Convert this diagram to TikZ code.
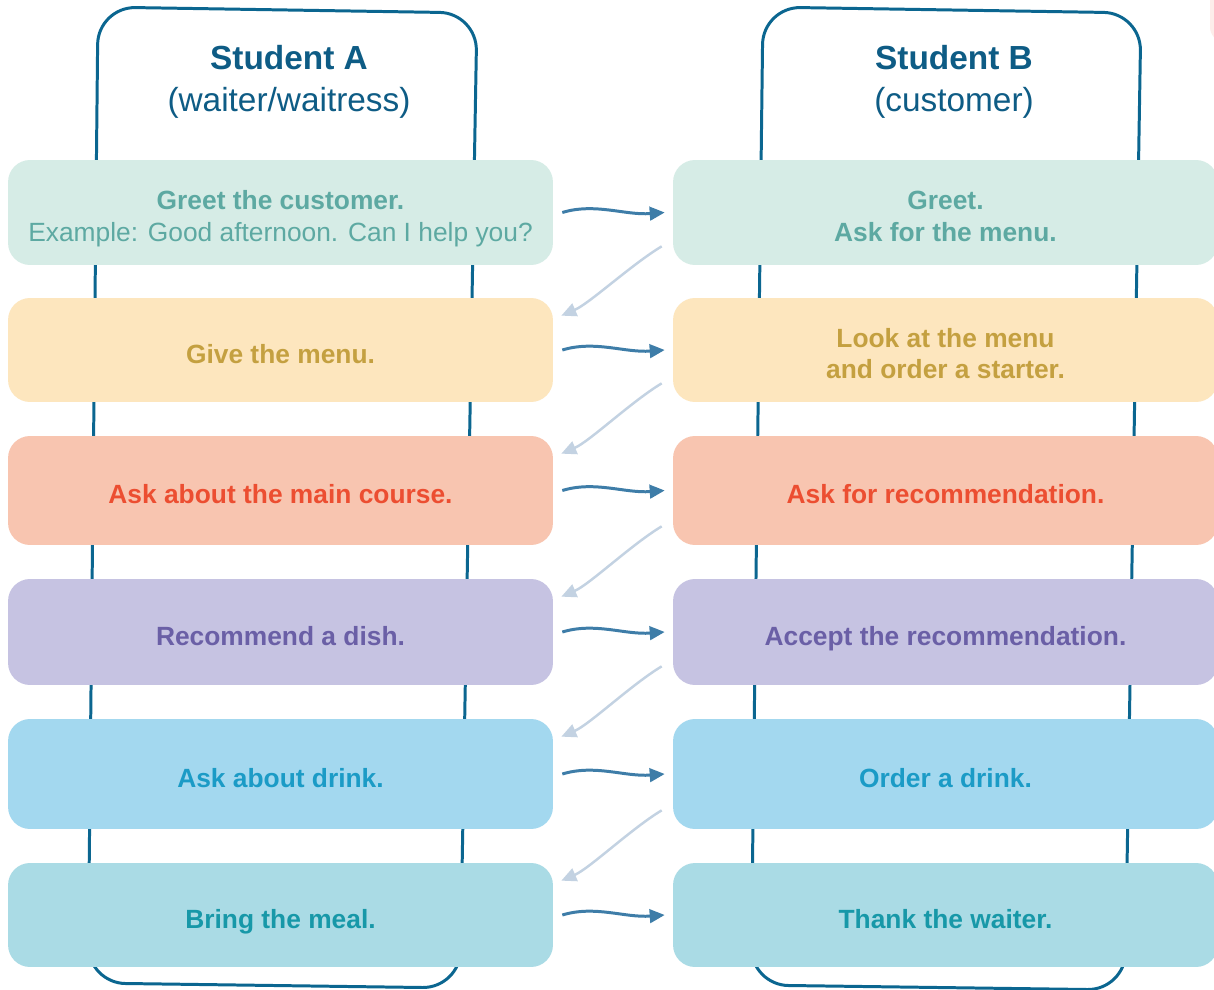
\documentclass[tikz,border=0pt]{standalone}
\usepackage{fontspec}
\setmainfont{Liberation Sans}
\usetikzlibrary{arrows.meta}

\definecolor{frameblue}{HTML}{0B6690}
\definecolor{titleblue}{HTML}{0E5C85}
\definecolor{fwdblue}{HTML}{3E7DA8}
\definecolor{backblue}{HTML}{C3D2E2}
\definecolor{blush}{HTML}{FDEDEA}
\definecolor{greetbg}{HTML}{D6ECE6}  \definecolor{greetfg}{HTML}{5DA9A2}
\definecolor{menubg}{HTML}{FDE6BE}   \definecolor{menufg}{HTML}{C4A040}
\definecolor{mainbg}{HTML}{F8C5B0}   \definecolor{mainfg}{HTML}{EC4E31}
\definecolor{dishbg}{HTML}{C6C3E2}   \definecolor{dishfg}{HTML}{6A5FA6}
\definecolor{drinkbg}{HTML}{A3D8EF}  \definecolor{drinkfg}{HTML}{1B9BC6}
\definecolor{mealbg}{HTML}{AADBE5}   \definecolor{mealfg}{HTML}{1798A8}

\tikzset{
  box/.style={rounded corners=0.44cm, minimum width=10.9cm, minimum height=2.1cm,
    align=center, inner sep=0pt, font=\fontsize{15}{18.1}\selectfont\bfseries,
    text height=15.2pt, text depth=0pt},
  % baseline sits on the last line here
  twolines/.style={text height=33pt, text depth=0pt},
  greet/.style={box, fill=greetbg, text=greetfg},
  menu/.style={box, fill=menubg, text=menufg},
  maincourse/.style={box, fill=mainbg, text=mainfg},
  dish/.style={box, fill=dishbg, text=dishfg},
  drink/.style={box, fill=drinkbg, text=drinkfg},
  meal/.style={box, fill=mealbg, text=mealfg},
  studentframe/.style={draw=frameblue, line width=1.7pt, rounded corners=0.75cm},
  who/.style={anchor=base, text=titleblue, font=\fontsize{19}{23}\selectfont},
  fwd/.style={draw=fwdblue, line width=1.7pt, -{Triangle[length=0.3cm, width=0.27cm]}},
  back/.style={draw=backblue, line width=1.4pt, -{Triangle[length=0.3cm, width=0.27cm]}}
}

\begin{document}
\begin{tikzpicture}[x=0.02cm, y=-0.02cm]
  \clip (0,0) rectangle (1214,990);
  \fill[white] (0,0) rectangle (1214,990);
  \fill[blush, rounded corners=0.3cm] (1210,-20) rectangle (1260,42);

  % the two student cards, slightly skewed
  \draw[studentframe] (98,7) -- (477,13) -- (460,988) -- (88,983) -- cycle;
  \draw[studentframe] (763,7) -- (1141,13) -- (1125,990) -- (751,985) -- cycle;
  \node[who, font=\fontsize{19}{23}\selectfont\bfseries] (nameA) at (289,70) {Student A};
  \node[who] (roleA) at (289,112) {(waiter/waitress)};
  \node[who, font=\fontsize{19}{23}\selectfont\bfseries] (nameB) at (954,70) {Student B};
  \node[who] (roleB) at (954,112) {(customer)};

  % steps, A on the left and B on the right
  \node[greet, twolines, minimum height=2.1cm] (a1) at (280.5,212.5)
    {Greet the customer.\\\mdseries Example: Good afternoon. Can I help you?};
  \node[greet, twolines, minimum height=2.1cm] (b1) at (945.5,212.5) {Greet.\\Ask for the menu.};
  \node[menu, minimum height=2.08cm] (a2) at (280.5,350) {Give the menu.};
  \node[menu, twolines, minimum height=2.08cm] (b2) at (945.5,350) {Look at the menu\\and order a starter.};
  \node[maincourse, minimum height=2.18cm] (a3) at (280.5,490.5) {Ask about the main course.};
  \node[maincourse, minimum height=2.18cm] (b3) at (945.5,490.5) {Ask for recommendation.};
  \node[dish, minimum height=2.12cm] (a4) at (280.5,632) {Recommend a dish.};
  \node[dish, minimum height=2.12cm] (b4) at (945.5,632) {Accept the recommendation.};
  \node[drink, minimum height=2.2cm] (a5) at (280.5,774) {Ask about drink.};
  \node[drink, minimum height=2.2cm] (b5) at (945.5,774) {Order a drink.};
  \node[meal, minimum height=2.08cm] (a6) at (280.5,915) {Bring the meal.};
  \node[meal, minimum height=2.08cm] (b6) at (945.5,915) {Thank the waiter.};

  % A -> B across, then B -> next A back
  \foreach \i in {1,...,6}
    \draw[fwd] ([shift={(9,0)}]a\i.east) .. controls +(33,-10) and +(-40,3) .. ([shift={(-8,0)}]b\i.west);
  \foreach \i [count=\j from 2] in {1,...,5}
    \draw[back] ([shift={(-11,-19)}]b\i.south west) .. controls +(-30,18) and +(28,-12) .. ([shift={(8,18)}]a\j.north east);
\end{tikzpicture}
\end{document}
